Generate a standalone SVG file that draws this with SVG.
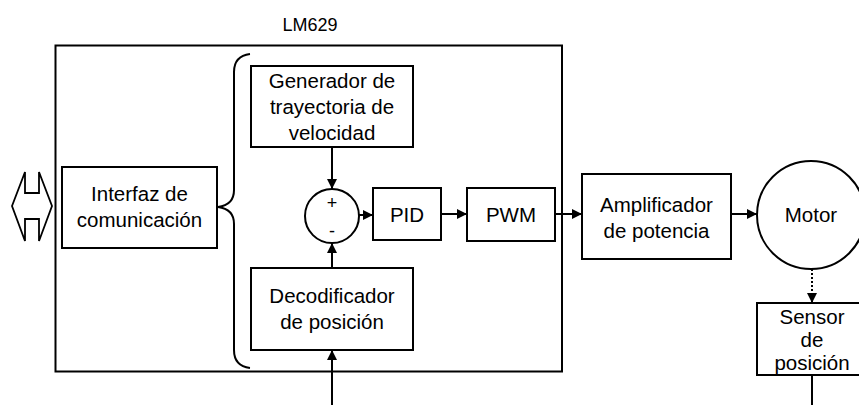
<svg xmlns="http://www.w3.org/2000/svg" width="859" height="405" viewBox="0 0 859 405">
<defs>
<style>
.b{fill:#fff;stroke:#000;stroke-width:2}
.t{font-family:"Liberation Sans",Arial,sans-serif;font-size:20.5px;fill:#000;text-anchor:middle}
.c{fill:none;stroke:#000;stroke-width:2}
</style>
<marker id="ah" viewBox="0 0 10 10" refX="10" refY="5" markerWidth="5.5" markerHeight="5" orient="auto" markerUnits="strokeWidth">
<path d="M0,0 L10,5 L0,10 Z" fill="#000"/>
</marker>
</defs>
<rect width="859" height="405" fill="#fff"/>
<g id="lm629">
<rect class="b" x="55.5" y="45.5" width="506.5" height="326"/>
<text class="t" x="310" y="31" style="font-size:18px">LM629</text>
</g>
<g id="bus">
<polygon class="b" style="stroke-width:1.8" points="12,206 25,172 25,193 39,193 39,172 52,206 39,241 39,219 25,219 25,241"/>
</g>
<g id="interfaz">
<rect class="b" x="62" y="167" width="155" height="81"/>
<text class="t" x="139.5" y="201">Interfaz de</text>
<text class="t" x="139.5" y="227">comunicación</text>
</g>
<g id="brace">
<path class="c" d="M250,54 Q234,56 234,72 L234,190 Q234,205 218,207 Q234,209 234,224 L234,350 Q234,366 250,368"/>
</g>
<g id="generador">
<rect class="b" x="251" y="66" width="162" height="81"/>
<text class="t" x="332" y="88">Generador de</text>
<text class="t" x="332" y="114">trayectoria de</text>
<text class="t" x="332" y="140">velocidad</text>
</g>
<g id="suma">
<circle class="b" cx="332" cy="216" r="27"/>
<text class="t" x="332" y="209" style="font-size:18px">+</text>
<text class="t" x="332" y="237" style="font-size:18px">-</text>
</g>
<g id="pid">
<rect class="b" x="373" y="188" width="68" height="52"/>
<text class="t" x="407" y="222">PID</text>
</g>
<g id="pwm">
<rect class="b" x="467" y="188" width="88" height="53"/>
<text class="t" x="511" y="222">PWM</text>
</g>
<g id="decodificador">
<rect class="b" x="251" y="268" width="162" height="82"/>
<text class="t" x="332" y="303">Decodificador</text>
<text class="t" x="332" y="329">de posición</text>
</g>
<g id="amplificador">
<rect class="b" x="582" y="174" width="149" height="85"/>
<text class="t" x="656.5" y="212">Amplificador</text>
<text class="t" x="656.5" y="238">de potencia</text>
</g>
<g id="motor">
<circle class="b" cx="811" cy="215" r="54"/>
<text class="t" x="811" y="222">Motor</text>
</g>
<g id="sensor">
<rect class="b" x="757" y="303" width="110" height="72"/>
<text class="t" x="812" y="324">Sensor</text>
<text class="t" x="812" y="347">de</text>
<text class="t" x="812" y="370">posición</text>
</g>
<g id="connectors">
<line class="c" x1="332" y1="147" x2="332" y2="189" marker-end="url(#ah)"/>
<line class="c" x1="332" y1="268" x2="332" y2="243" marker-end="url(#ah)"/>
<line class="c" x1="359" y1="215" x2="373" y2="215" marker-end="url(#ah)"/>
<line class="c" x1="441" y1="214" x2="467" y2="214" marker-end="url(#ah)"/>
<line class="c" x1="555" y1="214" x2="582" y2="214" marker-end="url(#ah)"/>
<line class="c" x1="731" y1="214" x2="757" y2="214" marker-end="url(#ah)"/>
<line class="c" x1="812" y1="269" x2="812" y2="303" stroke-dasharray="2,2" marker-end="url(#ah)"/>
<line class="c" x1="812" y1="375" x2="812" y2="405"/>
<line class="c" x1="332" y1="405" x2="332" y2="350" marker-end="url(#ah)"/>
</g>
</svg>
